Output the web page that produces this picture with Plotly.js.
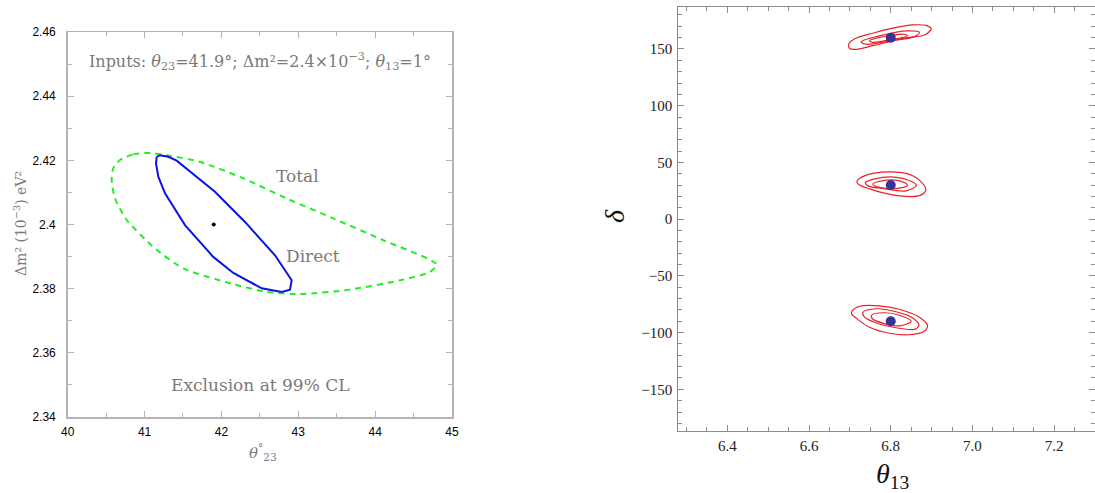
<!DOCTYPE html>
<html>
<head>
<meta charset="utf-8">
<script src="https://cdn.plot.ly/plotly-3.0.1.min.js"></script>
<style>html,body{margin:0;padding:0;background:#fff;}#chart{width:1095px;height:493px;}</style>
</head>
<body>
<div id="chart"></div>
<script>
// ---------- Left panel data (theta23 [deg], dm2 [1e-3 eV^2]) ----------
const directTheta = [41.158, 41.20, 41.309, 41.418, 41.916, 42.307, 42.697, 42.849, 42.914, 42.892, 42.784, 42.524, 42.155, 41.894, 41.526, 41.266, 41.179, 41.149, 41.158];
const directDm2   = [2.4211, 2.4216, 2.4211, 2.4199, 2.4102, 2.4008, 2.3904, 2.3852, 2.3826, 2.3797, 2.3790, 2.3801, 2.3849, 2.3899, 2.3998, 2.4097, 2.4149, 2.4190, 2.4211];
const totalTheta  = [40.680, 40.854, 41.071, 41.288, 41.725, 42.285, 42.849, 43.456, 44.106, 44.801, 44.714, 44.324, 43.673, 43.023, 42.589, 42.155, 41.504, 41.114, 40.768, 40.615, 40.572, 40.593, 40.680];
const totalDm2    = [2.4201, 2.4219, 2.4223, 2.4216, 2.4195, 2.4144, 2.4081, 2.4019, 2.3951, 2.3876, 2.3852, 2.3826, 2.3797, 2.3783, 2.3790, 2.3814, 2.3863, 2.3930, 2.4014, 2.4081, 2.4138, 2.4175, 2.4201];
const inputTheta = [41.9];
const inputDm2   = [2.40];
const leftYTickVals = [2.34, 2.36, 2.38, 2.40, 2.42, 2.44, 2.46];
const leftYTickText = ["2.34", "2.36", "2.38", "2.4", "2.42", "2.44", "2.46"];
const leftXTickVals = [40, 41, 42, 43, 44, 45];
const leftXTickText = ["40", "41", "42", "43", "44", "45"];

// ---------- Right panel data (theta13, delta) ----------
const bestTheta13 = [6.8, 6.8, 6.8];
const bestDelta   = [160, 30, -90];
// top cluster
const c1OuterX = [6.698, 6.711, 6.756, 6.805, 6.854, 6.888, 6.899, 6.890, 6.878, 6.838, 6.797, 6.756, 6.711, 6.698, 6.698];
const c1OuterY = [155.0, 158.8, 163.9, 168.3, 171.2, 170.6, 167.6, 163.9, 161.7, 160.0, 156.4, 152.9, 149.6, 151.0, 155.0];
const c1MidX = [6.728, 6.789, 6.838, 6.870, 6.858, 6.797, 6.740, 6.728];
const c1MidY = [156.4, 163.0, 165.9, 164.7, 160.9, 157.1, 154.2, 156.4];
const c1InX = [6.748, 6.797, 6.833, 6.841, 6.797, 6.756, 6.748];
const c1InY = [157.1, 161.7, 163.0, 161.7, 157.9, 155.9, 157.1];
// middle cluster
const c2OuterX = [6.717, 6.740, 6.797, 6.838, 6.870, 6.886, 6.872, 6.838, 6.790, 6.750, 6.725, 6.717];
const c2OuterY = [32.9, 38.8, 41.7, 40.3, 34.4, 25.6, 21.0, 20.0, 22.5, 26.5, 29.8, 32.9];
const c2MidX = [6.738, 6.780, 6.829, 6.863, 6.838, 6.780, 6.746, 6.738];
const c2MidY = [32.0, 36.8, 35.9, 30.0, 25.0, 27.1, 29.1, 32.0];
const c2InX = [6.756, 6.789, 6.821, 6.841, 6.817, 6.772, 6.756];
const c2InY = [30.9, 34.4, 33.8, 30.0, 27.1, 28.0, 30.9];
// bottom cluster
const c3OuterX = [6.706, 6.724, 6.772, 6.821, 6.870, 6.890, 6.882, 6.846, 6.797, 6.748, 6.716, 6.704, 6.706];
const c3OuterY = [-80.6, -76.8, -76.4, -79.4, -86.4, -93.6, -98.8, -101.9, -100.6, -95.3, -87.4, -83.4, -80.6];
const c3MidX = [6.732, 6.764, 6.813, 6.851, 6.869, 6.858, 6.813, 6.760, 6.735, 6.732];
const c3MidY = [-82.1, -79.0, -81.6, -86.5, -93.6, -97.1, -95.7, -90.9, -86.0, -82.1];
const c3InX = [6.753, 6.785, 6.821, 6.850, 6.821, 6.782, 6.755, 6.753];
const c3InY = [-84.7, -82.5, -84.7, -90.0, -94.0, -91.8, -87.8, -84.7];

// ---------- helpers (pixel -> paper) ----------
const W = 1095, H = 493;
const px = v => v / W;
const py = v => 1 - v / H;

const red = '#e8232b';
function contour(x, y) {
  return {x: x, y: y, xaxis: 'x2', yaxis: 'y2', mode: 'lines', type: 'scatter',
          line: {color: red, width: 1.2, shape: 'spline', smoothing: 1}, hoverinfo: 'skip', showlegend: false};
}

const traces = [
  {x: totalTheta, y: totalDm2, mode: 'lines', type: 'scatter', name: 'Total',
   line: {color: '#22ee22', width: 2, dash: '6px,5px', shape: 'spline', smoothing: 0.6}, showlegend: false},
  {x: directTheta, y: directDm2, mode: 'lines', type: 'scatter', name: 'Direct',
   line: {color: '#0a14e6', width: 2}, showlegend: false},
  {x: inputTheta, y: inputDm2, mode: 'markers', type: 'scatter', name: 'Input',
   marker: {color: '#000', size: 4}, showlegend: false},
  contour(c1OuterX, c1OuterY), contour(c1MidX, c1MidY), contour(c1InX, c1InY),
  contour(c2OuterX, c2OuterY), contour(c2MidX, c2MidY), contour(c2InX, c2InY),
  contour(c3OuterX, c3OuterY), contour(c3MidX, c3MidY), contour(c3InX, c3InY),
  {x: bestTheta13, y: bestDelta, xaxis: 'x2', yaxis: 'y2', mode: 'markers', type: 'scatter',
   marker: {color: '#33339a', size: 10}, showlegend: false}
];

const grayL = '#b4b4b4';
const grayR = '#8c8c8c';
const textGray = '#7a7a7a';
const serif = 'DejaVu Serif';
const times = 'Liberation Serif, serif';

function note(x, y, text, size, color, family, angle) {
  return {xref: 'paper', yref: 'paper', x: px(x), y: py(y), xanchor: 'center', yanchor: 'middle',
          showarrow: false, text: text, textangle: angle || 0,
          font: {family: family, size: size, color: color}};
}

const layout = {
  width: W, height: H,
  margin: {l: 0, r: 0, t: 0, b: 0},
  paper_bgcolor: '#fff', plot_bgcolor: '#fff',
  showlegend: false,
  xaxis: {
    domain: [px(67.7), px(452)], anchor: 'y', range: [40, 45],
    tickmode: 'array', tickvals: leftXTickVals, ticktext: leftXTickText,
    ticks: 'inside', ticklen: 6, tickwidth: 1, tickcolor: grayL,
    minor: {tickmode: 'linear', tick0: 40, dtick: 0.5, ticks: 'inside', ticklen: 4, tickcolor: grayL},
    showline: true, linecolor: grayL, linewidth: 1.5, mirror: 'allticks',
    showgrid: false, zeroline: false, ticklabelstandoff: 3,
    tickfont: {family: 'Liberation Sans', size: 12, color: '#000'}
  },
  yaxis: {
    domain: [py(417), py(32)], anchor: 'x', range: [2.34, 2.46],
    tickmode: 'array', tickvals: leftYTickVals, ticktext: leftYTickText,
    ticks: 'inside', ticklen: 6, tickwidth: 1, tickcolor: grayL,
    minor: {tickmode: 'linear', tick0: 2.34, dtick: 0.01, ticks: 'inside', ticklen: 4, tickcolor: grayL},
    showline: true, linecolor: grayL, linewidth: 1.5, mirror: 'allticks',
    showgrid: false, zeroline: false, ticklabelstandoff: 8,
    tickfont: {family: 'Liberation Sans', size: 12, color: '#000'}
  },
  xaxis2: {
    domain: [px(678.3), 1], anchor: 'y2', range: [6.28, 7.3],
    tick0: 6.4, dtick: 0.2, tickformat: '.1f',
    ticks: 'inside', ticklen: 6, tickwidth: 1, tickcolor: grayR,
    minor: {tick0: 6.4, dtick: 0.05, ticks: 'inside', ticklen: 4, tickcolor: grayR},
    showline: true, linecolor: grayR, linewidth: 1, mirror: 'allticks',
    showgrid: false, zeroline: false, ticklabelstandoff: 1,
    tickfont: {family: times, size: 15, color: '#222'}
  },
  yaxis2: {
    domain: [py(431.3), py(7)], anchor: 'x2', range: [-187, 187],
    tick0: 0, dtick: 50,
    ticks: 'inside', ticklen: 6, tickwidth: 1, tickcolor: grayR,
    minor: {tick0: 0, dtick: 10, ticks: 'inside', ticklen: 4, tickcolor: grayR},
    showline: true, linecolor: grayR, linewidth: 1, mirror: 'allticks',
    showgrid: false, zeroline: false, ticklabelstandoff: 2,
    tickfont: {family: times, size: 15, color: '#222'}
  },
  annotations: [
    note(260, 62, 'Inputs: <i>θ</i><sub>23</sub>=41.9°; Δm²=2.4×10<sup>−3</sup>; <i>θ</i><sub>13</sub>=1°', 16, textGray, serif),
    note(298, 176, 'Total', 17, textGray, serif),
    note(313, 256, 'Direct', 17, textGray, serif),
    note(260, 385, 'Exclusion at 99% CL', 17, textGray, serif),
    note(20, 224, 'Δm² (10<sup>−3</sup>) eV²', 14, textGray, serif, -90),
    note(263, 452, '<i>θ</i><sup>°</sup><sub>23</sub>', 15, textGray, serif),
    note(614, 216, '<i>δ</i>', 28, '#111', times, -90),
    note(893, 475, '<i>θ</i><sub>13</sub>', 28, '#111', times)
  ]
};

Plotly.newPlot('chart', traces, layout, {displayModeBar: false, staticPlot: true});
</script>
</body>
</html>
